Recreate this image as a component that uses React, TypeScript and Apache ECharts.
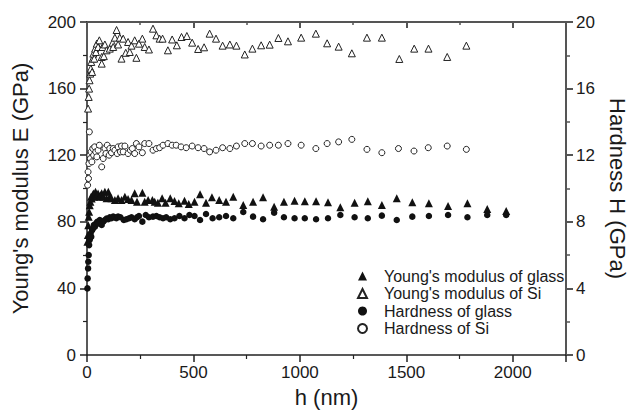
import React, { useEffect, useRef } from "react";
import * as echarts from "echarts";

// Young's modulus of Si (open triangles), left axis
const siModH = [5, 8, 10, 12, 15, 18, 20, 24, 27, 30, 34, 38, 42, 46, 52, 58, 69, 69, 73, 79, 84, 92, 107, 120, 123, 131, 139, 146, 154, 162, 170, 182, 193, 201, 209, 224, 232, 244, 260, 271, 291, 310, 326, 341, 355, 380, 400, 422, 444, 469, 494, 522, 550, 576, 606, 637, 671, 702, 741, 777, 818, 858, 899, 944, 1006, 1075, 1128, 1182, 1244, 1315, 1385, 1467, 1537, 1604, 1692, 1782];
const siModE = [148, 155, 160, 165, 169, 172, 176, 170, 178, 181, 178, 184, 182, 187, 185, 189, 175, 179, 185, 179.5, 186.5, 183, 184, 187.6, 185, 190.6, 195.2, 186.5, 190.6, 178, 190, 181.5, 188, 182, 185.8, 189, 178.5, 187, 190, 185, 183.5, 196, 192, 190, 190, 183, 189.5, 186, 191, 191.6, 187.6, 183.8, 184.8, 193, 190, 185.8, 186.5, 185.8, 180.5, 184, 186, 186.4, 190.4, 188.4, 190.6, 193, 187.2, 185.2, 181.2, 190.6, 190.6, 177.8, 184, 184, 179, 185.8];

// Young's modulus of glass (filled triangles), left axis
const glassModH = [2, 4, 6, 8, 10, 13, 16, 19, 22, 26, 30, 35, 40, 46, 52, 58, 63, 69, 76, 84, 92, 100, 107, 115, 131, 146, 162, 178, 193, 209, 224, 235, 260, 271, 287, 307, 318, 333, 353, 369, 391, 411, 431, 458, 478, 505, 531, 559, 587, 621, 653, 687, 734, 780, 827, 879, 925, 975, 1023, 1076, 1132, 1190, 1257, 1319, 1385, 1455, 1528, 1606, 1696, 1787, 1880, 1969];
const glassModE = [68, 72, 78, 83, 86, 90, 92, 95, 94, 96, 97, 95, 98, 96, 97, 95, 96, 97.1, 95.1, 98.1, 94.1, 98.1, 95.1, 94.1, 93.1, 94.1, 93.1, 95.1, 93.7, 93.1, 97.1, 92.1, 97.5, 92.1, 93.1, 93.1, 92.1, 91.5, 94.1, 91.5, 94.1, 92.5, 91.1, 92.7, 90.7, 92.1, 96.5, 91.5, 94.7, 93.1, 92.1, 95.1, 90.1, 92.1, 94.7, 89.1, 92.1, 92.7, 92.3, 92.3, 91.7, 88.7, 91.5, 92.3, 90.1, 94.1, 91.7, 91.1, 89.5, 91.1, 87.7, 86.5];

// Hardness of glass (filled circles), right axis
const glassHardH = [2, 3, 5, 6, 8, 10, 12, 14, 17, 20, 24, 28, 32, 37, 42, 48, 54, 60, 69, 76, 84, 92, 100, 107, 115, 123, 131, 138, 146, 157, 173, 185, 198, 209, 224, 235, 244, 260, 276, 291, 310, 326, 341, 357, 372, 391, 411, 434, 458, 481, 505, 531, 559, 590, 621, 653, 687, 734, 780, 827, 879, 925, 975, 1023, 1076, 1132, 1190, 1257, 1319, 1385, 1455, 1528, 1606, 1696, 1787, 1880, 1969];
const glassHardV = [4.0, 4.6, 5.2, 5.6, 6.0, 6.6, 6.9, 7.0, 7.3, 7.1, 7.5, 7.6, 7.8, 7.7, 7.9, 8.0, 7.9, 8.1, 7.81, 8.01, 8.11, 8.2, 8.15, 8.27, 8.21, 8.31, 8.27, 8.21, 8.31, 8.27, 8.11, 8.15, 8.21, 8.27, 8.15, 8.27, 8.35, 8.01, 8.41, 8.27, 8.31, 8.35, 8.27, 8.21, 8.27, 8.15, 8.21, 8.35, 8.21, 8.41, 8.35, 8.11, 8.47, 8.21, 8.27, 8.35, 8.21, 8.59, 8.31, 8.15, 8.55, 8.27, 8.21, 8.21, 8.15, 8.21, 8.41, 8.27, 8.21, 8.37, 8.11, 8.31, 8.35, 8.41, 8.27, 8.41, 8.41];

// Hardness of Si (open circles), right axis
const siHardH = [3, 5, 7, 9, 11, 13, 16, 19, 23, 27, 31, 36, 41, 46, 52, 58, 69, 76, 84, 89, 95, 104, 107, 115, 123, 131, 142, 146, 157, 162, 170, 178, 193, 204, 213, 224, 232, 244, 260, 271, 291, 310, 326, 341, 357, 380, 400, 419, 442, 466, 494, 522, 550, 576, 606, 637, 671, 702, 741, 777, 818, 858, 899, 944, 1006, 1075, 1128, 1182, 1244, 1315, 1385, 1463, 1536, 1603, 1692, 1782];
const siHardV = [10.2, 11.0, 10.6, 11.5, 13.4, 12.0, 11.8, 12.2, 11.6, 12.4, 12.0, 12.5, 12.2, 11.9, 12.3, 12.6, 11.3, 11.8, 12.4, 12.1, 12.6, 12.0, 12.4, 12.15, 12.4, 12.3, 12.1, 12.5, 12.2, 12.55, 12.2, 12.55, 12.1, 12.3, 12.4, 12.1, 12.7, 12.5, 12.15, 12.7, 12.7, 12.3, 12.4, 12.45, 12.6, 12.7, 12.6, 12.6, 12.5, 12.45, 12.55, 12.45, 12.4, 12.2, 12.3, 12.45, 12.4, 12.55, 12.7, 12.7, 12.55, 12.6, 12.6, 12.7, 12.6, 12.4, 12.7, 12.8, 12.95, 12.35, 12.15, 12.4, 12.25, 12.45, 12.55, 12.35];

const xTicks = { min: 0, max: 2250, interval: 500 };
const leftTicks = { min: 0, max: 200, interval: 40 };
const rightTicks = { min: 0, max: 20, interval: 4 };

const seriesNames = [
  "Young's modulus of glass",
  "Young's modulus of Si",
  "Hardness of glass",
  "Hardness of Si",
];

function pairs(xs: number[], ys: number[]) {
  return xs.map((x, i) => [x, ys[i]]);
}

export default function App() {
  const ref = useRef<HTMLDivElement>(null);
  useEffect(() => {
    document.body.style.margin = "0";
    const chart = echarts.init(ref.current!, null, { renderer: "svg" });
    const font = "'Liberation Sans', Arial, Helvetica, sans-serif";
    const ink = "#1a1a1a";
    const lineBlack = { color: "#222", width: 1.5 };
    const lineGray = { color: "#555", width: 2 };
    const labelStyle = { fontSize: 17, color: ink, fontFamily: font, formatter: (v: number) => String(v) };
    const nameStyle = { fontSize: 22, color: ink, fontFamily: font };

    chart.setOption({
      animation: false,
      backgroundColor: "#ffffff",
      textStyle: { fontFamily: font },
      grid: { left: 87, right: 68, top: 22, bottom: 61, containLabel: false },
      legend: {
        orient: "vertical",
        left: 352,
        top: 263,
        itemWidth: 9,
        itemHeight: 9,
        itemGap: 1.5,
        selectedMode: false,
        data: seriesNames,
        textStyle: { fontSize: 16, lineHeight: 16, color: ink, fontFamily: font, padding: [0, 0, 0, 12] },
      },
      xAxis: [
        {
          type: "value",
          position: "bottom",
          ...xTicks,
          name: "h (nm)",
          nameLocation: "middle",
          nameGap: 31,
          nameTextStyle: nameStyle,
          axisLine: { show: true, onZero: false, lineStyle: lineBlack },
          axisTick: { show: true, inside: false, length: 7, lineStyle: lineBlack },
          minorTick: { show: true, splitNumber: 2, length: 4, lineStyle: { color: "#222", width: 1.2 } },
          axisLabel: { ...labelStyle, margin: 9, showMaxLabel: false },
          splitLine: { show: false },
        },
        {
          type: "value",
          position: "top",
          ...xTicks,
          axisLine: { show: true, onZero: false, lineStyle: lineGray },
          axisTick: { show: true, inside: true, length: 6, lineStyle: lineGray },
          minorTick: { show: true, splitNumber: 2, length: 3, lineStyle: { color: "#555", width: 1.5 } },
          axisLabel: { show: false },
          splitLine: { show: false },
        },
      ],
      yAxis: [
        {
          type: "value",
          position: "left",
          ...leftTicks,
          name: "Young's modulus E (GPa)",
          nameLocation: "middle",
          nameRotate: 90,
          nameGap: 56,
          nameTextStyle: nameStyle,
          axisLine: { show: true, onZero: false, lineStyle: lineBlack },
          axisTick: { show: true, inside: false, length: 7, lineStyle: lineBlack },
          minorTick: { show: true, splitNumber: 2, length: 4, lineStyle: { color: "#222", width: 1.2 } },
          axisLabel: { ...labelStyle, margin: 11 },
          splitLine: { show: false },
        },
        {
          type: "value",
          position: "right",
          ...rightTicks,
          name: "Hardness H (GPa)",
          nameLocation: "middle",
          nameRotate: -90,
          nameGap: 40,
          nameTextStyle: nameStyle,
          axisLine: { show: true, onZero: false, lineStyle: lineGray },
          axisTick: { show: true, inside: false, length: 7, lineStyle: lineGray },
          minorTick: { show: true, splitNumber: 2, length: 4, lineStyle: { color: "#555", width: 1.5 } },
          axisLabel: { ...labelStyle, margin: 10 },
          splitLine: { show: false },
        },
      ],
      series: [
        {
          name: seriesNames[0],
          type: "scatter",
          xAxisIndex: 0,
          yAxisIndex: 0,
          symbol: "triangle",
          symbolSize: 8,
          itemStyle: { color: "#111", opacity: 1 },
          data: pairs(glassModH, glassModE),
        },
        {
          name: seriesNames[1],
          type: "scatter",
          xAxisIndex: 0,
          yAxisIndex: 0,
          symbol: "triangle",
          symbolSize: 7,
          itemStyle: { color: "#ffffff", borderColor: "#222", borderWidth: 1, opacity: 1 },
          data: pairs(siModH, siModE),
        },
        {
          name: seriesNames[2],
          type: "scatter",
          xAxisIndex: 0,
          yAxisIndex: 1,
          symbol: "circle",
          symbolSize: 6.5,
          itemStyle: { color: "#111", opacity: 1 },
          data: pairs(glassHardH, glassHardV),
        },
        {
          name: seriesNames[3],
          type: "scatter",
          xAxisIndex: 0,
          yAxisIndex: 1,
          symbol: "circle",
          symbolSize: 6,
          itemStyle: { color: "#ffffff", borderColor: "#222", borderWidth: 1, opacity: 1 },
          data: pairs(siHardH, siHardV),
        },
      ],
    });
    return () => chart.dispose();
  }, []);
  return <div ref={ref} style={{ width: 636, height: 416 }} />;
}
